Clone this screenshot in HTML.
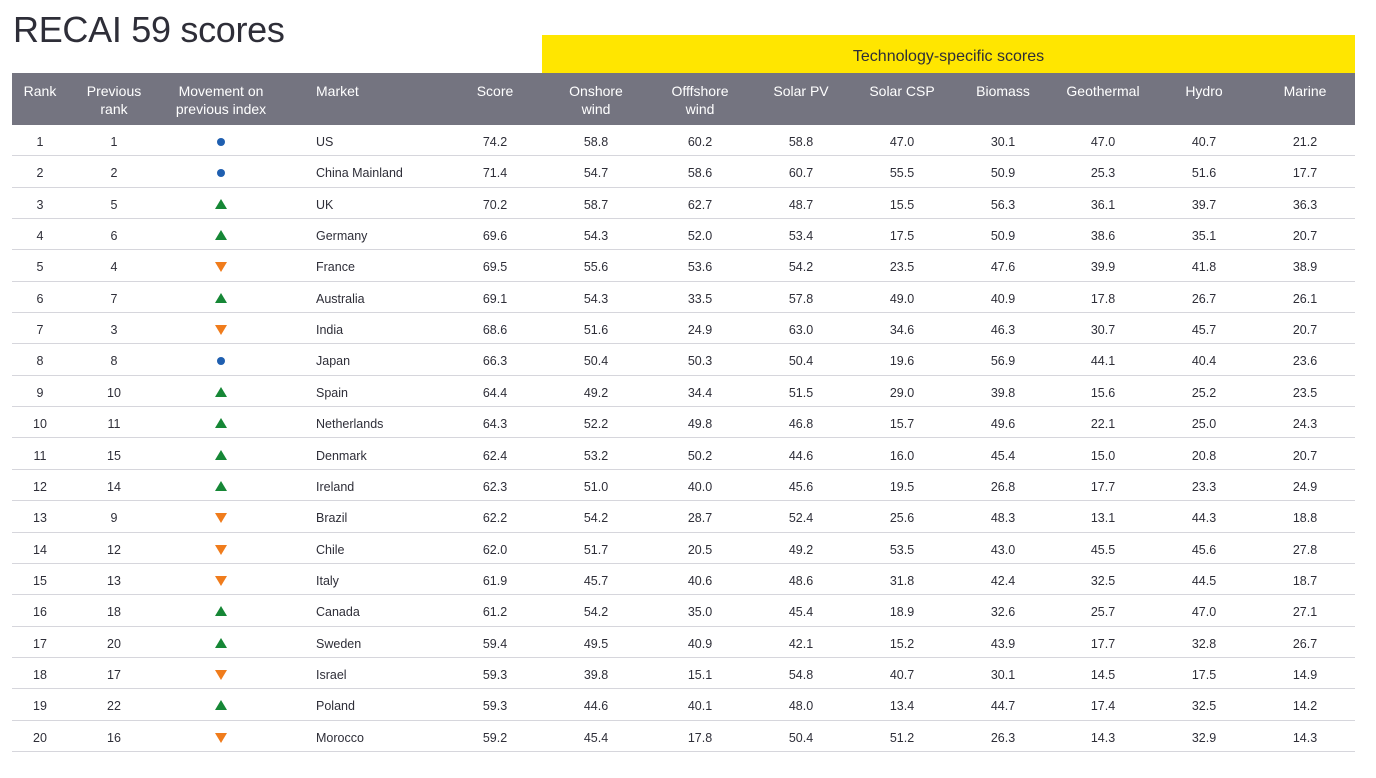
<!DOCTYPE html>
<html><head><meta charset="utf-8"><style>
body{margin:0;background:#fff;width:1376px;height:778px;overflow:hidden;font-family:"Liberation Sans",sans-serif;position:relative}
.title{position:absolute;left:13px;top:9px;font-size:36px;color:#2e2e38;letter-spacing:-0.3px}
.yel{position:absolute;left:542px;top:35px;width:813px;height:38px;background:#ffe600;color:#2e2e38;font-size:16px;text-align:center;line-height:43px}
.hdr{position:absolute;left:12px;top:73px;width:1343px;height:52px;background:#747480}
.h{position:absolute;top:82px;color:#fff;font-size:14px;line-height:18px;text-align:center;transform:translateX(-50%);white-space:nowrap}
.row{position:absolute;left:12px;width:1343px;height:31.35px;border-bottom:1px solid #d6d6dc;box-sizing:border-box}
.c{position:absolute;top:10px;font-size:12.5px;color:#2e2e38;transform:translateX(-50%);white-space:nowrap}
.m{position:absolute;top:10px;font-size:12.5px;color:#2e2e38}
.dot{position:absolute;top:13px;width:8px;height:8px;border-radius:50%;background:#1f5fb0;margin-left:-4px}
.up{position:absolute;top:11px;width:0;height:0;border-left:6px solid transparent;border-right:6px solid transparent;border-bottom:10px solid #168736;margin-left:-6px}
.dn{position:absolute;top:12px;width:0;height:0;border-left:6px solid transparent;border-right:6px solid transparent;border-top:10px solid #f07c1c;margin-left:-6px}
</style></head><body>
<div class="title">RECAI 59 scores</div>
<div class="yel">Technology-specific scores</div>
<div class="hdr"></div>
<div class="h" style="left:40px">Rank</div>
<div class="h" style="left:114px">Previous<br>rank</div>
<div class="h" style="left:221px">Movement on<br>previous index</div>
<div class="h" style="left:316px;transform:none">Market</div>
<div class="h" style="left:495px">Score</div>
<div class="h" style="left:596px">Onshore<br>wind</div>
<div class="h" style="left:700px">Offfshore<br>wind</div>
<div class="h" style="left:801px">Solar PV</div>
<div class="h" style="left:902px">Solar CSP</div>
<div class="h" style="left:1003px">Biomass</div>
<div class="h" style="left:1103px">Geothermal</div>
<div class="h" style="left:1204px">Hydro</div>
<div class="h" style="left:1305px">Marine</div>
<div id="rows"></div>
<script>
const d=[
[1,1,'o','US',74.2,58.8,60.2,58.8,47.0,30.1,47.0,40.7,21.2],
[2,2,'o','China Mainland',71.4,54.7,58.6,60.7,55.5,50.9,25.3,51.6,17.7],
[3,5,'u','UK',70.2,58.7,62.7,48.7,15.5,56.3,36.1,39.7,36.3],
[4,6,'u','Germany',69.6,54.3,52.0,53.4,17.5,50.9,38.6,35.1,20.7],
[5,4,'d','France',69.5,55.6,53.6,54.2,23.5,47.6,39.9,41.8,38.9],
[6,7,'u','Australia',69.1,54.3,33.5,57.8,49.0,40.9,17.8,26.7,26.1],
[7,3,'d','India',68.6,51.6,24.9,63.0,34.6,46.3,30.7,45.7,20.7],
[8,8,'o','Japan',66.3,50.4,50.3,50.4,19.6,56.9,44.1,40.4,23.6],
[9,10,'u','Spain',64.4,49.2,34.4,51.5,29.0,39.8,15.6,25.2,23.5],
[10,11,'u','Netherlands',64.3,52.2,49.8,46.8,15.7,49.6,22.1,25.0,24.3],
[11,15,'u','Denmark',62.4,53.2,50.2,44.6,16.0,45.4,15.0,20.8,20.7],
[12,14,'u','Ireland',62.3,51.0,40.0,45.6,19.5,26.8,17.7,23.3,24.9],
[13,9,'d','Brazil',62.2,54.2,28.7,52.4,25.6,48.3,13.1,44.3,18.8],
[14,12,'d','Chile',62.0,51.7,20.5,49.2,53.5,43.0,45.5,45.6,27.8],
[15,13,'d','Italy',61.9,45.7,40.6,48.6,31.8,42.4,32.5,44.5,18.7],
[16,18,'u','Canada',61.2,54.2,35.0,45.4,18.9,32.6,25.7,47.0,27.1],
[17,20,'u','Sweden',59.4,49.5,40.9,42.1,15.2,43.9,17.7,32.8,26.7],
[18,17,'d','Israel',59.3,39.8,15.1,54.8,40.7,30.1,14.5,17.5,14.9],
[19,22,'u','Poland',59.3,44.6,40.1,48.0,13.4,44.7,17.4,32.5,14.2],
[20,16,'d','Morocco',59.2,45.4,17.8,50.4,51.2,26.3,14.3,32.9,14.3]];
const xs=[495,596,700,801,902,1003,1103,1204,1305].map(x=>x-12);
let h='';
d.forEach((r,i)=>{
 let s=`<div class="row" style="top:${125+i*31.35}px">`;
 s+=`<div class="c" style="left:28px">${r[0]}</div><div class="c" style="left:102px">${r[1]}</div>`;
 s+=`<div class="${r[2]=='o'?'dot':r[2]=='u'?'up':'dn'}" style="left:209px"></div>`;
 s+=`<div class="m" style="left:304px">${r[3]}</div>`;
 for(let k=0;k<9;k++)s+=`<div class="c" style="left:${xs[k]}px">${r[4+k].toFixed(1)}</div>`;
 h+=s+'</div>';
});
document.getElementById('rows').innerHTML=h;
</script>
</body></html>
